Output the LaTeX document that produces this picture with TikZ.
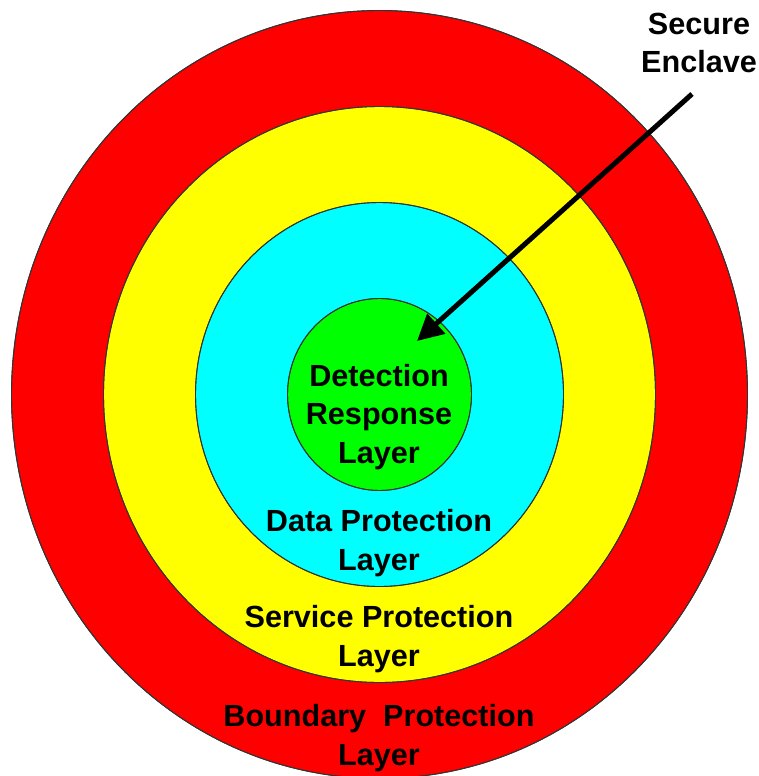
\documentclass[tikz,border=0pt]{standalone}
\usepackage{fontspec}
\setmainfont{Liberation Sans}
\usetikzlibrary{arrows.meta}
\definecolor{ringred}{HTML}{FF0000}
\definecolor{ringyellow}{HTML}{FFFF00}
\definecolor{ringcyan}{HTML}{00FFFF}
\definecolor{ringgreen}{HTML}{00FF00}
\tikzset{
  ring/.style={draw=black!80, line width=0.9pt},
  lbl/.style={align=center, font=\fontsize{30.6}{38.5}\selectfont\bfseries, inner sep=0pt},
  pointer/.style={line width=5pt, -{Triangle[length=26pt,width=26pt]}}
}
\begin{document}
\begin{tikzpicture}[x=1pt,y=-1pt]
\useasboundingbox (0,0) rectangle (758,776);
\coordinate (c) at (379.5,394.5);
\fill[ring, fill=ringred]    (c) ellipse [x radius=368, y radius=384];
\fill[ring, fill=ringyellow] (c) ellipse [x radius=276, y radius=288];
\fill[ring, fill=ringcyan]   (c) ellipse [x radius=184, y radius=192];
\fill[ring, fill=ringgreen]  (c) ellipse [x radius=92, y radius=96];
\draw[ring] (c) ellipse [x radius=368, y radius=384];
\draw[ring] (c) ellipse [x radius=276, y radius=288];
\draw[ring] (c) ellipse [x radius=184, y radius=192];
\draw[ring] (c) ellipse [x radius=92, y radius=96];
\node[lbl] (det) at (379,417) {Detection\\Response\\Layer};
\node[lbl] (dat) at (379,543) {Data Protection\\Layer};
\node[lbl] (srv) at (379,639) {Service Protection\\Layer};
\node[lbl] (bnd) at (379,738) {Boundary\ \ Protection\\Layer};
\node[lbl] (enc) at (699,43) {Secure\\Enclave};
\coordinate (start) at (692,94);
\coordinate (tip) at (417,341);
\draw[pointer] (start) -- (tip);
\end{tikzpicture}
\end{document}
